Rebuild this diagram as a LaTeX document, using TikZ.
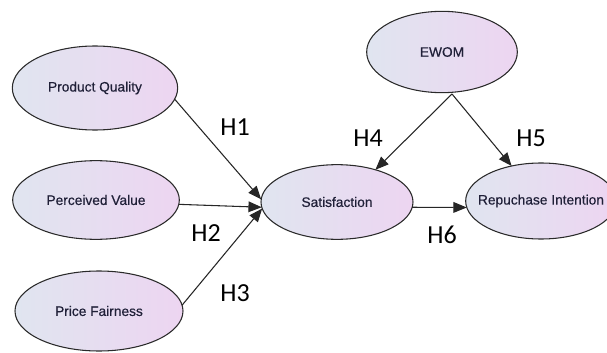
\documentclass[tikz,border=0pt]{standalone}
\usepackage{fontspec}
\setmainfont{Liberation Sans}
\newfontfamily\nodefont[FakeBold=0.5]{Liberation Sans}
\newfontfamily\hfont{Carlito}
\usetikzlibrary{shapes.geometric,arrows.meta}
\definecolor{txtc}{HTML}{202038}
\definecolor{lc}{HTML}{E0E5F0}
\definecolor{rc}{HTML}{EDD5F1}
\definecolor{edgec}{HTML}{2A2A2A}
\tikzset{
  construct/.style={ellipse, draw=edgec, line width=0.8pt, left color=lc, right color=rc,
    inner sep=0pt, outer sep=0pt,
    label={[text=txtc, font=\nodefont\fontsize{10.3}{12}\selectfont]center:#1}},
  path/.style={draw=black!85, line width=0.8pt, -{Triangle[length=10pt,width=8pt]}},
  hyp/.style={font=\hfont\fontsize{19.5}{22}\selectfont, text=black, inner sep=0pt}
}
\begin{document}
\begin{tikzpicture}[x=0.75pt,y=-0.75pt]
\useasboundingbox (0,0) rectangle (607,353);
\clip (0,0) rectangle (607,353);
\node[construct={Product Quality}, minimum width=124pt, minimum height=63pt] (pq) at (95,88) {};
\node[construct={Perceived Value}, minimum width=125pt, minimum height=59pt] (pv) at (96,200) {};
\node[construct={Price Fairness}, minimum width=126pt, minimum height=60pt] (pf) at (99,311) {};
\node[construct={Satisfaction}, minimum width=114pt, minimum height=56pt] (sat) at (337,202) {};
\node[construct={EWOM}, minimum width=113pt, minimum height=61pt] (ewom) at (442,52) {};
\node[construct={Repuchase Intention}, minimum width=113pt, minimum height=57pt] (rep) at (541,201) {};
\coordinate (eb) at (452,94);
\draw[path] (pq.-8) -- (sat.178);
\draw[path] (pv.-3.5) -- (sat.-176);
\draw[path] (pf.4) -- (sat.-175);
\draw[path] (eb) -- (sat.40);
\draw[path] (eb) -- (rep.130);
\draw[path] (sat.-4) -- (rep.-175);
\node[hyp] (h1) at (235,127) {H1};
\node[hyp] (h2) at (206,233) {H2};
\node[hyp] (h3) at (235,293) {H3};
\node[hyp] (h4) at (368,138) {H4};
\node[hyp] (h5) at (531,138) {H5};
\node[hyp] (h6) at (442,235) {H6};
\end{tikzpicture}
\end{document}
